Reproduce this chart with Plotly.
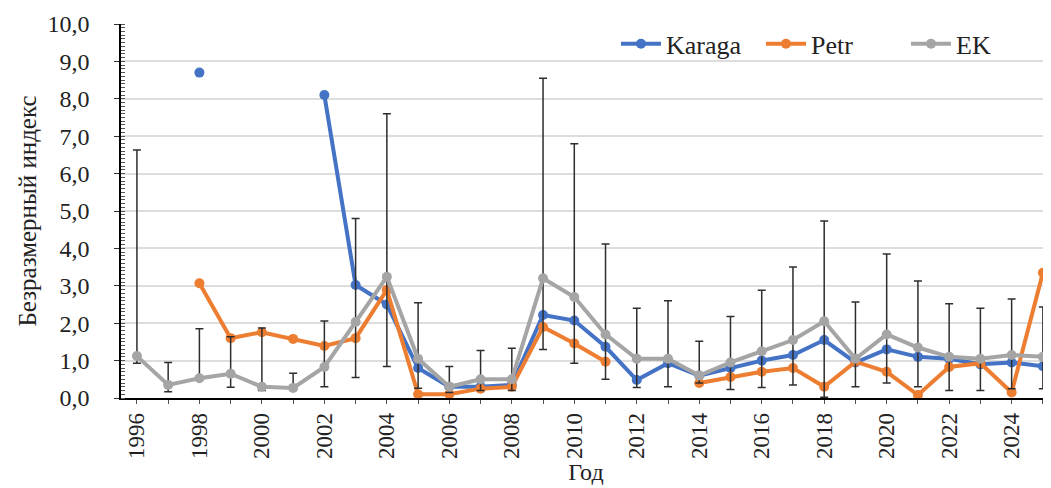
import plotly.graph_objects as go

years = list(range(1996, 2026))

karaga = [None, None, 8.7, None, None, None, 8.1, 3.02, 2.5, 0.8,
          0.3, 0.3, 0.35, 2.22, 2.07, 1.37, 0.48, 0.93, 0.6, 0.8,
          1.0, 1.15, 1.55, 0.95, 1.3, 1.1, 1.05, 0.9, 0.95, 0.85]

petr = [None, None, 3.07, 1.6, 1.76, 1.58, 1.39, 1.6, 2.89, 0.1,
        0.1, 0.25, 0.3, 1.9, 1.46, 0.97, None, None, 0.4, 0.56,
        0.7, 0.8, 0.3, 0.97, 0.7, 0.08, 0.83, 0.93, 0.15, 3.35]

ek = [1.12, 0.35, 0.53, 0.65, 0.3, 0.27, 0.83, 2.03, 3.24, 1.05,
      0.3, 0.5, 0.5, 3.2, 2.7, 1.7, 1.05, 1.05, 0.6, 0.95,
      1.25, 1.55, 2.05, 1.05, 1.7, 1.35, 1.1, 1.05, 1.15, 1.1]

# upper and lower ends of the whiskers
err_top = [6.63, 0.95, 1.85, 1.64, 1.87, 0.66, 2.06, 4.8, 7.6, 2.55,
           0.84, 1.27, 1.33, 8.55, 6.8, 4.12, 2.4, 2.6, 1.52, 2.18,
           2.88, 3.5, 4.73, 2.57, 3.85, 3.13, 2.52, 2.4, 2.65, 2.43]
err_bot = [0.93, 0.17, 0.57, 0.29, 0.2, 0.24, 0.3, 0.55, 0.84, 0.26,
           0.15, 0.2, 0.2, 1.3, 0.93, 0.5, 0.28, 0.3, 0.4, 0.23,
           0.28, 0.35, 0.02, 0.3, 0.4, 0.3, 0.2, 0.2, 0.25, 0.25]

err_plus = [t - v for t, v in zip(err_top, ek)]
err_minus = [v - b for b, v in zip(err_bot, ek)]

serif = "Liberation Serif, Times New Roman, serif"

fig = go.Figure()

fig.add_trace(go.Scatter(
    x=years, y=karaga, name="Karaga", mode="lines+markers",
    line=dict(color="#4472C4", width=4),
    marker=dict(color="#4472C4", size=10),
))
fig.add_trace(go.Scatter(
    x=years, y=petr, name="Petr", mode="lines+markers",
    line=dict(color="#ED7D31", width=4),
    marker=dict(color="#ED7D31", size=10),
))
fig.add_trace(go.Scatter(
    x=years, y=ek, name="EK", mode="lines+markers",
    line=dict(color="#A5A5A5", width=4),
    marker=dict(color="#A5A5A5", size=10),
    error_y=dict(type="data", symmetric=False, array=err_plus,
                 arrayminus=err_minus, color="#2e2e2e",
                 thickness=1.5, width=4),
))

# page body has an 8px margin, so the figure is a little smaller than the window
fig.update_layout(
    width=1043, height=480,
    margin=dict(l=113, r=0, t=16, b=90),
    paper_bgcolor="white", plot_bgcolor="white",
    separators=", ",
    font=dict(family=serif, size=23, color="#222222"),
    legend=dict(orientation="h", x=1.0, xanchor="right",
                y=0.947, yanchor="middle",
                font=dict(family=serif, size=26, color="#222222"),
                bgcolor="rgba(0,0,0,0)", itemwidth=40,
                entrywidth=90),
    xaxis=dict(
        range=[1995.49, 2025.26], tickmode="linear", tick0=1996, dtick=2,
        tickangle=-90, showgrid=False, zeroline=False, automargin=False,
        showline=True, linecolor="black", linewidth=1.5,
        ticks="outside", ticklen=4, tickcolor="#555555",
        minor=dict(dtick=1, ticks="outside", ticklen=4, tickcolor="#555555"),
        title=dict(text="Год", font=dict(family=serif, size=24), standoff=2),
        tickfont=dict(family=serif, size=23),
    ),
    yaxis=dict(
        range=[0, 10], dtick=1, tickformat=".1f", automargin=False,
        showgrid=True, gridcolor="#DDDDDD", gridwidth=1.5, zeroline=False,
        showline=True, linecolor="black", linewidth=1.5,
        ticks="outside", ticklen=5, tickcolor="#333333",
        ticklabelstandoff=20,
        minor=dict(dtick=0.1, ticks="inside", ticklen=4,
                   tickcolor="#555555", showgrid=False),
        title=dict(text="Безразмерный индекс", font=dict(family=serif, size=25),
                   standoff=4),
        tickfont=dict(family=serif, size=24),
    ),
)

fig.write_html("out.html")
